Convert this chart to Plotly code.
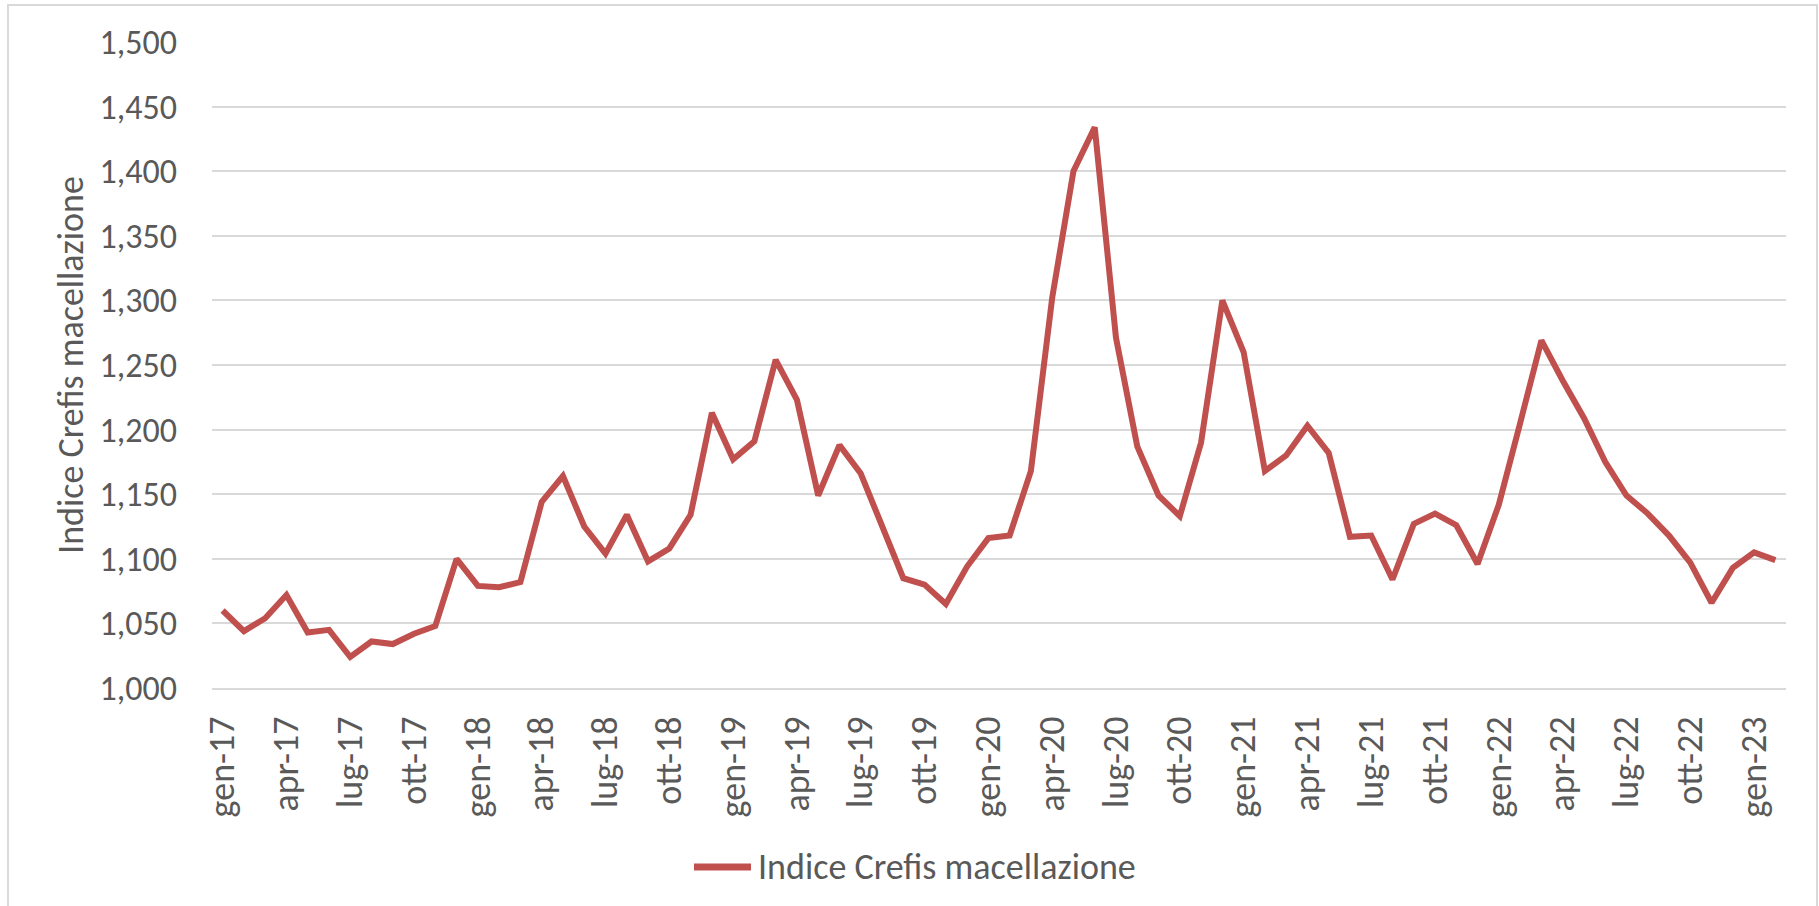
import plotly.graph_objects as go

months_it = ["gen", "feb", "mar", "apr", "mag", "giu", "lug", "ago", "set", "ott", "nov", "dic"]
categories = [f"{m}-{y:02d}" for y in range(17, 24) for m in months_it][:74]

values = [
    1060, 1044, 1054, 1072, 1043, 1045, 1024, 1036, 1034, 1042, 1048, 1100,
    1079, 1078, 1082, 1144, 1164, 1125, 1104, 1134, 1098, 1108, 1134, 1213,
    1177, 1191, 1254, 1223, 1149, 1188, 1166, 1125, 1085, 1080, 1065, 1094,
    1116, 1118, 1168, 1302, 1400, 1434, 1271, 1187, 1149, 1133, 1190, 1300,
    1260, 1168, 1180, 1203, 1182, 1117, 1118, 1084, 1127, 1135, 1126, 1096,
    1142, 1205, 1269, 1238, 1209, 1175, 1149, 1135, 1118, 1097, 1066, 1093,
    1105, 1099,
]

tick_labels = categories[::3]
series_name = "Indice Crefis macellazione"
y_ticks = [1000, 1050, 1100, 1150, 1200, 1250, 1300, 1350, 1400, 1450, 1500]

FONT = "Carlito, Calibri, Lato, sans-serif"
TXT = "#595959"
LINE_COLOR = "#C0504D"

W, H = 1819, 906
L, R, T, B = 212, 33, 42, 218
PW, PH = W - L - R, H - T - B


def px_x(p):
    return (p - L) / PW


def px_y(p):
    return (H - B - p) / PH


fig = go.Figure()
fig.add_trace(go.Scatter(
    x=categories, y=values, mode="lines", name=series_name,
    line=dict(color=LINE_COLOR, width=6), showlegend=False,
))

fig.update_layout(
    width=W, height=H,
    margin=dict(l=L, r=R, t=T, b=B),
    paper_bgcolor="white", plot_bgcolor="white",
    font=dict(family=FONT, color=TXT, size=34),
    showlegend=False,
    xaxis=dict(
        type="category", categoryorder="array", categoryarray=categories,
        range=[-0.5, len(categories) - 0.5],
        tickmode="array", tickvals=tick_labels, ticktext=tick_labels,
        tickangle=-90, showgrid=False, showline=True, linecolor="#D9D9D9", linewidth=2,
        ticks="", ticklabelstandoff=12, tickfont=dict(size=36, color=TXT),
    ),
    yaxis=dict(
        range=[1000, 1500], tickvals=y_ticks, tickformat=",d",
        showgrid=True, gridcolor="#D9D9D9", gridwidth=2, zeroline=False,
        ticks="", ticklabelstandoff=34, tickfont=dict(size=34, color=TXT),
        title=dict(text=series_name, font=dict(size=36, color=TXT), standoff=4),
    ),
)

# legend (line sample + label)
fig.add_shape(type="line", xref="paper", yref="paper",
              x0=px_x(694), x1=px_x(751), y0=px_y(867), y1=px_y(867),
              line=dict(color=LINE_COLOR, width=7))
fig.add_annotation(xref="paper", yref="paper", x=px_x(756), y=px_y(867),
                   xanchor="left", yanchor="middle", showarrow=False,
                   text=series_name, font=dict(size=36, color=TXT, family=FONT))

# outer chart border (open at the bottom, as in the original crop)
fig.add_shape(type="rect", xref="paper", yref="paper",
              x0=px_x(8), x1=px_x(1817), y0=px_y(930), y1=px_y(5),
              line=dict(color="#D9D9D9", width=2), fillcolor="rgba(0,0,0,0)", layer="below")

fig.write_html("out.html", config={"displayModeBar": False},
               post_script="document.body.style.margin='0';")
